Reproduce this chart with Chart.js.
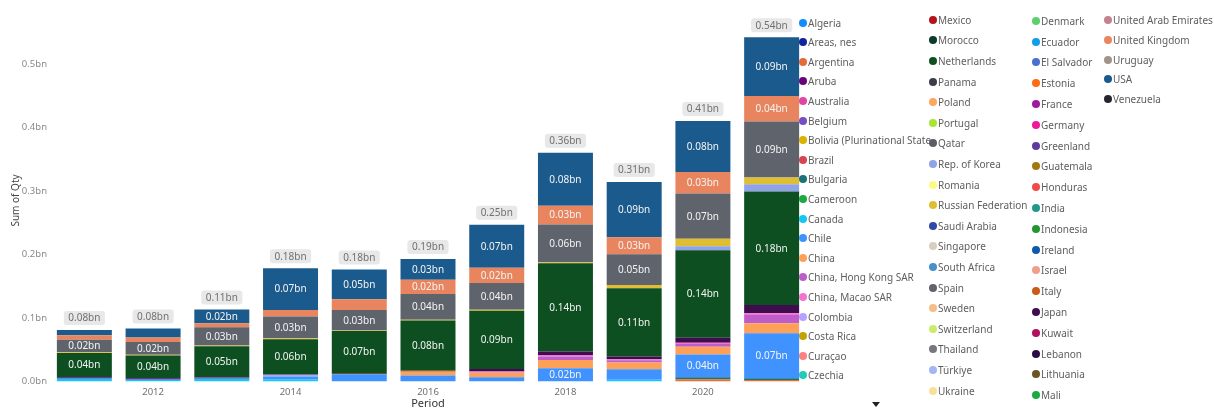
<!DOCTYPE html>
<html>
<head>
    <title>Sum of Qty by Period</title>
    <script src="https://cdn.jsdelivr.net/npm/chart.js"></script>
    <style>
        body { margin: 0; background: #fff; font-family: "Noto Sans", sans-serif; }
        #wrap { position: relative; width: 1214px; height: 409px; overflow: hidden; }
        #legend .item { position: absolute; height: 14px; line-height: 14px; font-size: 10px; color: #605e5c; white-space: nowrap; overflow: hidden; }
        #legend .dot { position: absolute; left: 0; top: 3px; width: 8px; height: 8px; border-radius: 50%; }
        #legend .txt { position: absolute; left: 9px; top: 0; }
        #more { position: absolute; left: 872px; top: 402px; width: 0; height: 0;
                border-left: 4px solid transparent; border-right: 4px solid transparent; border-top: 5px solid #222; }
    </style>
</head>
<body>
<div id="wrap">
    <canvas id="qtyChart" width="1214" height="409"></canvas>
    <div id="legend"></div>
    <div id="more"></div>
</div>

<script>
// periods on the x axis
const years = ['2011', '2012', '2013', '2014', '2015', '2016', '2017', '2018', '2019', '2020', '2021'];

// partner countries, in stacking order (bottom first)
const countries = [
    'Algeria', 'Areas, nes', 'Argentina', 'Aruba', 'Australia', 'Belgium',
    'Bolivia (Plurinational State of)', 'Brazil', 'Bulgaria', 'Cameroon', 'Canada', 'Chile',
    'China', 'China, Hong Kong SAR', 'China, Macao SAR', 'Colombia', 'Costa Rica', 'Curaçao',
    'Czechia', 'Denmark', 'Ecuador', 'El Salvador', 'Estonia', 'France', 'Germany',
    'Greenland', 'Guatemala', 'Honduras', 'India', 'Indonesia', 'Ireland', 'Israel', 'Italy',
    'Japan', 'Kuwait', 'Lebanon', 'Lithuania', 'Mali', 'Mexico', 'Morocco', 'Netherlands',
    'Panama', 'Poland', 'Portugal', 'Qatar', 'Rep. of Korea', 'Romania', 'Russian Federation',
    'Saudi Arabia', 'Singapore', 'South Africa', 'Spain', 'Sweden', 'Switzerland', 'Thailand',
    'Türkiye', 'Ukraine', 'United Arab Emirates', 'United Kingdom', 'Uruguay', 'USA', 'Venezuela'
];

const colors = [
    '#118dff', '#12239e', '#e66c37', '#6b007b', '#e044a7', '#744ec2',
    '#d9b300', '#d64550', '#197278', '#1aab40', '#15c6f4', '#4092ff',
    '#ffa058', '#be5dc9', '#f472d0', '#b5a1ff', '#c4a200', '#fd817e',
    '#22cbb7', '#5dd06d', '#0e9fe6', '#4b6fd0', '#ff6a12', '#9c1a9c', '#f0189a',
    '#5d3a9e', '#a07a10', '#f04a4a', '#1f9a8a', '#23962f', '#0f5aa8', '#f0a088', '#c95a1a',
    '#3f0c4e', '#b0105f', '#2a0d45', '#6b5525', '#1aab40', '#b5121b', '#0c3b2e', '#0d4f20',
    '#3b3d4a', '#ffa65e', '#a8e630', '#595d66', '#8ea3e8', '#fbfb80', '#e0be33',
    '#2f49a8', '#d9cfc0', '#4a90c8', '#5f636c', '#f6bd86', '#c9ec6a', '#77777d',
    '#a7b5f5', '#f9e09a', '#c4828e', '#e8855f', '#a29488', '#1b5a8c', '#26262e'
];

// quantities in billions, 2011..2021
const argentina   = [0, 0, 0, 0, 0, 0, 0, 0, 0, 0.0035, 0.0022];
const bulgaria    = [0, 0, 0, 0, 0, 0, 0, 0, 0, 0.003, 0.003];
const canada      = [0.0042, 0.0027, 0.0042, 0.0037, 0, 0, 0, 0, 0.0026, 0, 0];
const chile       = [0, 0, 0, 0.0042, 0.0115, 0.0095, 0.0068, 0.021, 0.0168, 0.036, 0.0709];
const china       = [0, 0, 0, 0, 0, 0.006, 0.007, 0.013, 0.0105, 0.0121, 0.0157];
const hongKong    = [0, 0, 0, 0, 0, 0, 0, 0.0054, 0.0037, 0.0043, 0.0131];
const macao       = [0, 0, 0, 0, 0, 0, 0.002, 0.0025, 0.0015, 0.002, 0.0026];
const colombia    = [0, 0, 0, 0.0026, 0, 0, 0, 0, 0, 0, 0];
const greenland   = [0.0027, 0.0027, 0.0025, 0, 0, 0, 0, 0, 0, 0, 0];
const italy       = [0, 0, 0, 0, 0, 0.0015, 0, 0, 0, 0, 0];
const japan       = [0, 0, 0, 0, 0, 0, 0.0037, 0.0052, 0.0042, 0.0079, 0.0131];
const lithuania   = [0, 0, 0, 0, 0.002, 0, 0, 0, 0, 0, 0];
const netherlands = [0.0378, 0.0355, 0.0488, 0.0562, 0.066, 0.0792, 0.092, 0.139, 0.1076, 0.138, 0.1785];
const korea       = [0, 0, 0, 0, 0, 0, 0, 0, 0, 0.0063, 0.0115];
const russia      = [0.0012, 0.0012, 0.0012, 0.0015, 0.001, 0.001, 0.0015, 0.0015, 0.0052, 0.0115, 0.0105];
const spain       = [0.020, 0.0202, 0.0289, 0.034, 0.032, 0.0404, 0.042, 0.0598, 0.0483, 0.0714, 0.0882];
const uk          = [0.0068, 0.0068, 0.0063, 0.0105, 0.017, 0.0226, 0.024, 0.0294, 0.0268, 0.034, 0.0404];
const usa         = [0.0084, 0.0145, 0.0215, 0.0656, 0.047, 0.0325, 0.068, 0.0835, 0.087, 0.0803, 0.0924];

const qtyByCountry = {
    'Argentina': argentina, 'Bulgaria': bulgaria, 'Canada': canada, 'Chile': chile,
    'China': china, 'China, Hong Kong SAR': hongKong, 'China, Macao SAR': macao,
    'Colombia': colombia, 'Greenland': greenland, 'Italy': italy, 'Japan': japan,
    'Lithuania': lithuania, 'Netherlands': netherlands, 'Rep. of Korea': korea,
    'Russian Federation': russia, 'Spain': spain, 'United Kingdom': uk, 'USA': usa
};

const fmt = v => v.toFixed(2) + 'bn';
const FONT = '"Noto Sans", sans-serif';

const datasets = countries.map((name, i) => ({
    label: name,
    data: qtyByCountry[name] || years.map(() => 0),
    backgroundColor: colors[i],
    borderWidth: 0
}));

// value labels inside segments + total badges above each column
const barLabels = {
    id: 'barLabels',
    afterDatasetsDraw(chart) {
        const ctx = chart.ctx;
        ctx.save();
        ctx.font = '10px ' + FONT;
        ctx.textAlign = 'center';
        ctx.textBaseline = 'middle';
        chart.data.datasets.forEach((ds, i) => {
            chart.getDatasetMeta(i).data.forEach((bar, j) => {
                if (bar.base - bar.y < 12) return;
                ctx.fillStyle = '#f4f4f4';
                ctx.fillText(fmt(ds.data[j]), bar.x, (bar.y + bar.base) / 2 + 0.5);
            });
        });
        const yScale = chart.scales.y;
        years.forEach((yr, j) => {
            const total = chart.data.datasets.reduce((s, ds) => s + ds.data[j], 0);
            const x = chart.getDatasetMeta(0).data[j].x;
            const top = yScale.getPixelForValue(total);
            const text = fmt(total);
            const w = ctx.measureText(text).width + 9;
            const h = 14;
            ctx.fillStyle = '#e8e8e8';
            ctx.beginPath();
            ctx.roundRect(x - w / 2, top - 5 - h, w, h, 3);
            ctx.fill();
            ctx.fillStyle = '#707070';
            ctx.fillText(text, x, top - 5 - h / 2 + 0.5);
        });
        ctx.restore();
    }
};

const chart = new Chart(document.getElementById('qtyChart').getContext('2d'), {
    type: 'bar',
    data: { labels: years, datasets: datasets },
    options: {
        responsive: false,
        animation: false,
        devicePixelRatio: 1,
        layout: { padding: { top: 19.5, right: 408, bottom: 0, left: 0 } },
        datasets: { bar: { categoryPercentage: 1, barPercentage: 0.8 } },
        plugins: { legend: { display: false }, tooltip: { enabled: false } },
        scales: {
            x: {
                stacked: true,
                grid: { display: false, drawTicks: false },
                border: { display: false },
                ticks: {
                    autoSkip: false, maxRotation: 0, padding: 5,
                    color: '#707070', font: { family: FONT, size: 9.5 },
                    callback: function (v) { const y = this.getLabelForValue(v); return +y % 2 === 0 ? y : ''; }
                },
                title: { display: true, text: 'Period', color: '#333', padding: 0,
                         font: { family: FONT, size: 11, lineHeight: 0.9 } },
                afterFit: s => { s.height = 27.5; }
            },
            y: {
                stacked: true,
                min: 0, max: 0.57,
                grid: { display: false, drawTicks: false },
                border: { display: false },
                ticks: {
                    stepSize: 0.1, includeBounds: false, padding: 3,
                    color: '#8a8a8a', font: { family: FONT, size: 9.5 },
                    callback: v => v.toFixed(1) + 'bn'
                },
                title: { display: true, text: 'Sum of Qty', color: '#444', padding: { top: 10, bottom: 0 },
                         font: { family: FONT, size: 10 } },
                afterFit: s => { s.width = 50; }
            }
        }
    },
    plugins: [barLabels]
});

// legend: four columns laid out the way the report shows them
const legendColumns = [
    { names: countries.slice(0, 19),  x: 799,  y: 22.5, step: 19.6, width: 134 },
    { names: countries.slice(38, 57), x: 929,  y: 19.7, step: 20.6, width: 104 },
    { names: countries.slice(19, 38), x: 1032, y: 20.7, step: 20.8, width: 74 },
    { names: countries.slice(57),     x: 1104, y: 20.3, step: 19.7, width: 110 }
];
const legendEl = document.getElementById('legend');
legendColumns.forEach(col => {
    col.names.forEach((name, k) => {
        const item = document.createElement('div');
        item.className = 'item';
        item.style.left = col.x + 'px';
        item.style.top = (col.y + k * col.step - 7) + 'px';
        item.style.width = col.width + 'px';
        const dot = document.createElement('span');
        dot.className = 'dot';
        dot.style.background = colors[countries.indexOf(name)];
        const txt = document.createElement('span');
        txt.className = 'txt';
        txt.textContent = name;
        item.appendChild(dot);
        item.appendChild(txt);
        legendEl.appendChild(item);
    });
});
</script>
</body>
</html>
